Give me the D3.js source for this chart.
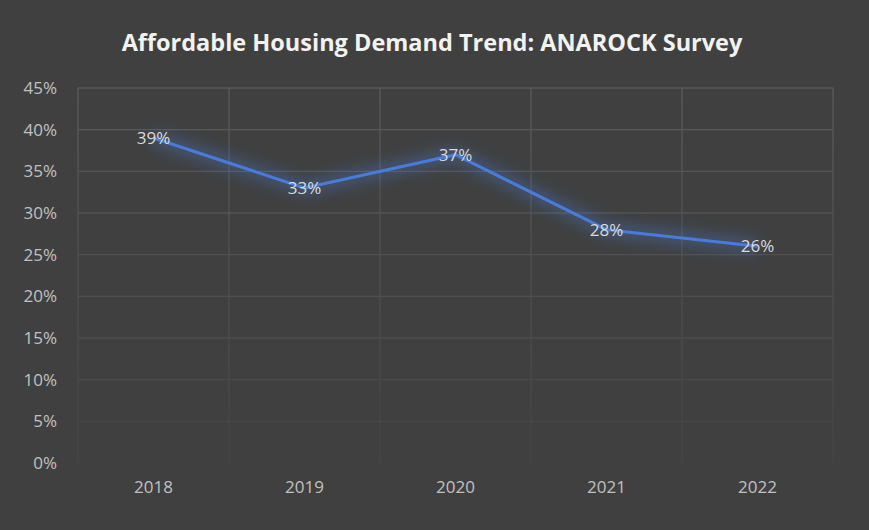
<!DOCTYPE html>
<html><head><meta charset="utf-8">
<script src="https://cdn.jsdelivr.net/npm/d3@7"></script>
<style>html,body{margin:0;padding:0;background:#404040;}</style>
</head><body>
<svg id="c" width="869" height="530"></svg>
<script>
const categories = ["2018","2019","2020","2021","2022"];
const values = [0.39, 0.33, 0.37, 0.28, 0.26];
const yTicks = [0,0.05,0.10,0.15,0.20,0.25,0.30,0.35,0.40,0.45];
const title = "Affordable Housing Demand Trend: ANAROCK Survey";

const svg = d3.select("#c");
const W = 869, H = 530;
const m = {l:78, r:36, t:88, b:67};
svg.append("rect").attr("width",W).attr("height",H).attr("fill","#404040");

const x = d3.scaleBand().domain(categories).range([m.l, W-m.r]);
const y = d3.scaleLinear().domain([0,0.45]).range([H-m.b, m.t]);
const gridCol = d3.scaleLinear().domain([H-m.b, m.t]).range(["#464646","#5a5a5a"]);

const defs = svg.append("defs");
const f = defs.append("filter").attr("id","glow").attr("x","-20%").attr("y","-50%").attr("width","140%").attr("height","200%");
f.append("feGaussianBlur").attr("stdDeviation",7);

// horizontal grid
svg.append("g").selectAll("line").data(yTicks.slice(1)).join("line")
  .attr("x1",m.l).attr("x2",W-m.r).attr("y1",d=>y(d)).attr("y2",d=>y(d))
  .attr("stroke",d=>gridCol(y(d))).attr("stroke-width",1.3);
// vertical grid
const vx = categories.map(c=>x(c)).concat([x(categories[categories.length-1])+x.bandwidth()]);
const vg = defs.append("linearGradient").attr("id","vg").attr("x1",0).attr("x2",0).attr("gradientUnits","userSpaceOnUse")
  .attr("y1",m.t).attr("y2",H-m.b);
vg.append("stop").attr("offset","0").attr("stop-color","#5a5a5a");
vg.append("stop").attr("offset","1").attr("stop-color","#444444");
svg.append("g").selectAll("line").data(vx).join("line")
  .attr("x1",d=>d).attr("x2",d=>d).attr("y1",m.t).attr("y2",H-m.b)
  .attr("stroke","url(#vg)").attr("stroke-width",1.3);

const font = "'Open Sans',sans-serif";
// axes
const yAxis = d3.axisLeft(y).tickValues(yTicks).tickFormat(d3.format(".0%")).tickSize(0).tickPadding(21);
const ya = svg.append("g").attr("transform",`translate(${m.l},0)`).call(yAxis);
ya.select(".domain").remove();
ya.selectAll("text").attr("fill","#c0c0c0").style("font-family",font).style("font-size","17px");

const xAxis = d3.axisBottom(x).tickSize(0).tickPadding(18);
const xa = svg.append("g").attr("transform",`translate(0,${H-m.b})`).call(xAxis);
xa.select(".domain").remove();
xa.selectAll("text").attr("fill","#c0c0c0").style("font-family",font).style("font-size","17px");

// line
const line = d3.line().x((d,i)=>x(categories[i])+x.bandwidth()/2).y(d=>y(d));
svg.append("path").datum(values).attr("d",line).attr("fill","none")
  .attr("stroke","#4a7ee0").attr("stroke-width",14).attr("opacity",0.35).attr("filter","url(#glow)");
svg.append("path").datum(values).attr("d",line).attr("fill","none")
  .attr("stroke","#4a7cd6").attr("stroke-width",3).attr("stroke-linejoin","round");

// labels
svg.append("g").selectAll("text").data(values).join("text")
  .attr("x",(d,i)=>x(categories[i])+x.bandwidth()/2).attr("y",d=>y(d))
  .attr("dy","0.35em").attr("text-anchor","middle")
  .attr("fill","#dadada").style("font-family",font).style("font-size","17px")
  .text(d=>d3.format(".0%")(d));

// title
svg.append("text").attr("x",432).attr("y",51).attr("text-anchor","middle")
  .attr("fill","#f2f2f2").style("font-family",font).style("font-weight","bold").style("font-size","23.5px")
  .text(title);
</script>
</body></html>
